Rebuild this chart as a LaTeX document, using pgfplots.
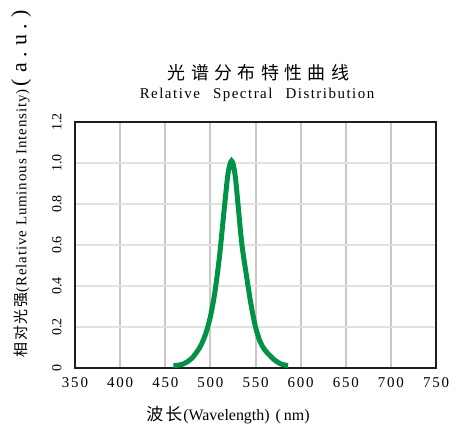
\documentclass[border=0pt]{standalone}
\usepackage{fontspec}
\setmainfont{Liberation Serif}
\newfontfamily\cjktitle[LetterSpace=30]{Noto Sans CJK SC}
\newfontfamily\cjklabel[LetterSpace=12]{Noto Sans CJK SC}
\newfontfamily\serifwide[LetterSpace=10,WordSpace=2.5]{Liberation Serif}
\newfontfamily\serifticks[LetterSpace=12]{Liberation Serif}
\newfontfamily\seriflab[LetterSpace=6]{Liberation Serif}
\newfontfamily\serifau[LetterSpace=27]{Liberation Serif}
\usepackage{pgfplots}
\pgfplotsset{compat=1.18}

\definecolor{curvegreen}{RGB}{0,146,70}
\definecolor{vgrid}{RGB}{200,200,200}
\definecolor{hgrid}{RGB}{225,225,225}
\definecolor{framecol}{RGB}{30,30,30}

\begin{document}
\begin{tikzpicture}
\useasboundingbox (-75bp,-62bp) rectangle (390bp,368bp);
\begin{axis}[
    at={(0,0)}, anchor=south west,
    scale only axis,
    width=361bp, height=246bp,
    xmin=350, xmax=750,
    ymin=0, ymax=1.2,
    xtick={350,400,450,500,550,600,650,700,750},
    ytick={0,0.2,0.4,0.6,0.8,1.0,1.2},
    yticklabels={0,0.2,0.4,0.6,0.8,1.0,1.2},
    /pgf/number format/assume math mode=true,
    xticklabel style={font=\serifticks\fontsize{15}{15}\selectfont},
    yticklabel style={font=\fontsize{14}{14}\selectfont, rotate=90, anchor=south},
    xticklabel shift=6bp,
    yticklabel shift=10bp,
    major tick length=0pt,
    grid=major,
    x grid style={vgrid, line width=2bp},
    y grid style={hgrid, line width=2bp},
    axis line style={framecol, line width=2bp},
]
% green LED spectrum
\addplot[curvegreen, line width=5bp, smooth] coordinates {
    (459,0.012) (465,0.014) (470,0.02) (475,0.032) (480,0.05)
    (485,0.078) (490,0.115) (495,0.17) (500,0.25) (505,0.37)
    (510,0.54) (515,0.76) (519,0.93) (521.5,0.99) (523.5,1.01)
    (525.5,0.99) (528,0.92) (531,0.78) (535,0.6) (540,0.45)
    (545,0.31) (550,0.2) (555,0.13) (560,0.09) (565,0.065)
    (570,0.043) (575,0.027) (580,0.017) (586,0.012)
};
\end{axis}
% titles and axis labels
\node[font=\cjktitle\fontsize{18}{20}\selectfont] at (183.5bp,295bp) {光谱分布特性曲线};
\node[font=\serifwide\fontsize{15}{17}\selectfont] at (182bp,273bp) {Relative Spectral Distribution};
\node[rotate=90, inner sep=0pt] at (-54bp,184bp) {%
  {\cjklabel\fontsize{15}{17}\selectfont 相对光强}%
  {\seriflab\fontsize{15}{17}\selectfont(Relative Luminous Intensity)}\hspace{3pt}%
  {\serifau\fontsize{22}{24}\selectfont(a.u.)}};
\node[inner sep=0pt] at (153bp,-47bp) {%
  {\cjklabel\fontsize{17}{19}\selectfont 波长}\hspace{1pt}%
  {\fontsize{16}{18}\selectfont(Wavelength)\hspace{6pt}(\hspace{3pt}nm)}};
\end{tikzpicture}
\end{document}
